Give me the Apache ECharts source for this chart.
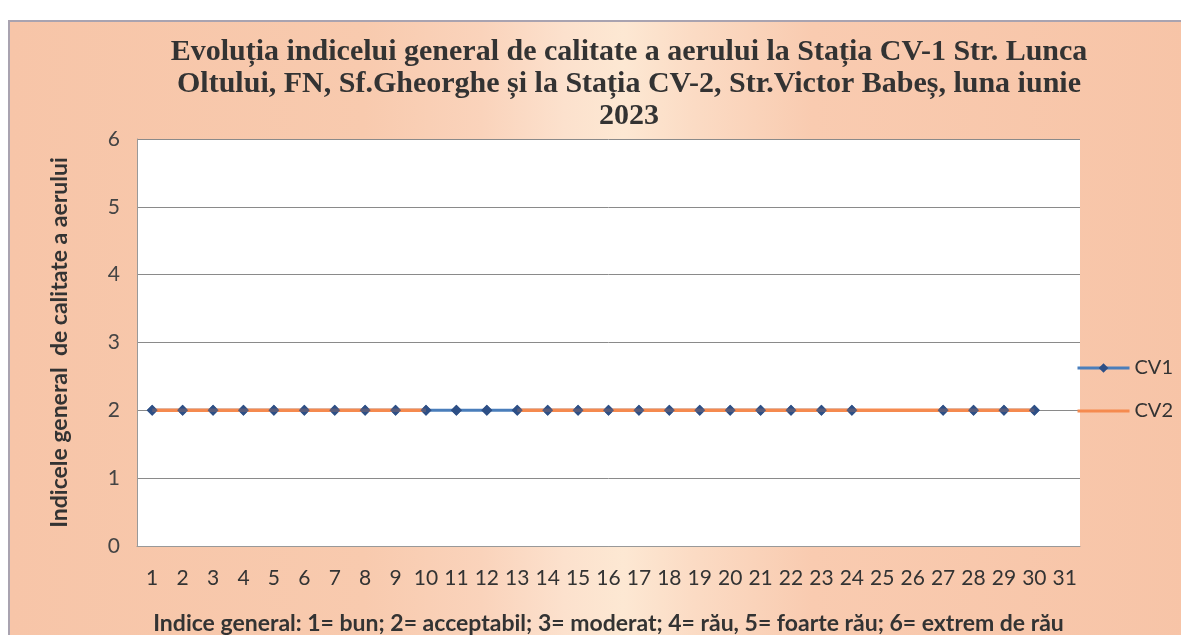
<!DOCTYPE html>
<html>
<head>
<meta charset="utf-8">
<script src="https://cdn.jsdelivr.net/npm/echarts@6/dist/echarts.min.js"></script>
<style>
html,body{margin:0;padding:0;background:#fff;}
#frame{position:absolute;left:8px;top:20px;width:1180px;height:620px;border-left:2px solid #a9a3b0;border-top:2px solid #a9a3b0;
background:linear-gradient(90deg,#f7c5a8 0%,#f8caae 30%,#fad3bb 40%,#fce1cd 47%,#fde8d3 52%,#fbdbc4 58%,#f9cbb0 68%,#f7c4a7 100%);}
#chart{position:absolute;left:0;top:0;width:1181px;height:635px;}
</style>
</head>
<body>
<div id="frame"></div>
<div id="chart"></div>
<script>
const days = ['1','2','3','4','5','6','7','8','9','10','11','12','13','14','15','16','17','18','19','20','21','22','23','24','25','26','27','28','29','30','31'];
const cv1 = [2,2,2,2,2,2,2,2,2,2,2,2,2,2,2,2,2,2,2,2,2,2,2,2,null,null,2,2,2,2,null];
const cv2 = [2,2,2,2,2,2,2,2,2,2,null,null,2,2,2,2,2,2,2,2,2,2,2,2,2,2,2,2,2,2,null];
const yTicks = [0,1,2,3,4,5,6];

const chart = echarts.init(document.getElementById('chart'), null, {renderer:'canvas'});
chart.setOption({
  backgroundColor: 'transparent',
  animation: false,
  title: {
    text: 'Evoluția indicelui general de calitate a aerului la Stația CV-1 Str. Lunca\nOltului, FN, Sf.Gheorghe și la Stația CV-2, Str.Victor Babeș, luna iunie\n2023',
    left: 624, top: 31, textAlign: 'center',
    textStyle: {fontFamily: 'Liberation Serif', fontWeight: 'bold', fontSize: 30, color: '#333', lineHeight: 32}
  },
  grid: {left: 137, top: 139, width: 943, height: 407, backgroundColor: '#fff', show: true, borderWidth: 0,
    outerBoundsMode: 'none', containLabel: false},
  legend: {
    orient: 'vertical', left: 1071, top: 353, itemGap: 23, itemWidth: 52, itemHeight: 12,
    data: [
      {name: 'CV1', lineStyle: {width: 3}},
      {name: 'CV2', icon: 'path://M0,0H52V3H0Z'}
    ],
    textStyle: {fontFamily: 'Lato', fontSize: 20, color: '#333'}
  },
  xAxis: {
    type: 'category', data: days, boundaryGap: true,
    name: 'Indice general: 1= bun; 2= acceptabil; 3= moderat; 4= rău, 5= foarte rău; 6= extrem de rău',
    nameLocation: 'middle', nameGap: 66,
    nameTextStyle: {fontFamily: 'Lato', fontWeight: 'bold', fontSize: 23, color: '#333'},
    axisLine: {show: true, lineStyle: {color: '#999'}},
    axisTick: {show: false},
    axisLabel: {fontFamily: 'Lato', fontSize: 21, color: '#333', margin: 22, interval: 0}
  },
  yAxis: {
    type: 'value', min: 0, max: 6, interval: 1,
    name: 'Indicele general  de calitate a aerului',
    nameLocation: 'middle', nameGap: 66, nameRotate: 90,
    nameTextStyle: {fontFamily: 'Lato', fontWeight: 'bold', fontSize: 23, color: '#333'},
    axisLine: {show: true, lineStyle: {color: '#999'}},
    axisTick: {show: false},
    axisLabel: {fontFamily: 'Lato', fontSize: 21, color: '#444', margin: 17,
      formatter: v => yTicks.includes(v) ? String(v) : ''},
    splitLine: {show: true, lineStyle: {color: '#8a8a8a', width: 1}}
  },
  series: [
    {name: 'CV1', type: 'line', data: cv1, z: 1, symbol: 'diamond', symbolSize: 11,
      lineStyle: {color: '#4a7ebb', width: 3}, itemStyle: {color: '#2d4f86'}},
    {name: 'CV2', type: 'line', data: cv2, z: 2, symbol: 'none', showSymbol: false,
      lineStyle: {color: '#f58a4f', width: 3.5}, itemStyle: {color: '#f58a4f'}},
    {name: 'CV1', type: 'scatter', data: cv1, z: 3, symbol: 'diamond', symbolSize: 11,
      itemStyle: {color: '#2d4f86'}}
  ]
});
</script>
</body>
</html>
